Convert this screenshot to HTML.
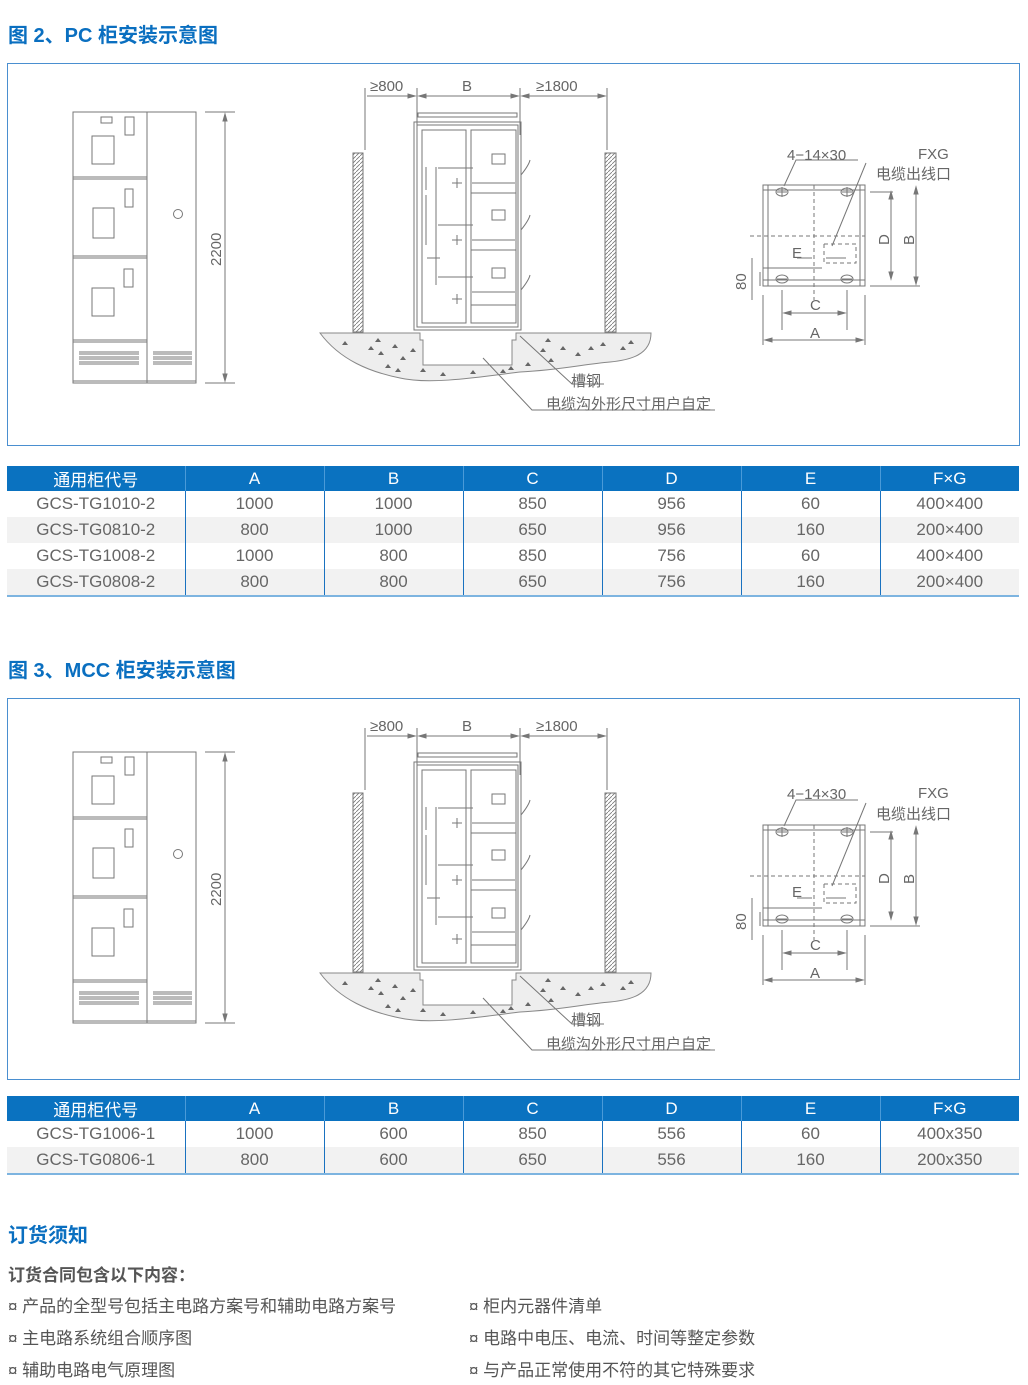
<!DOCTYPE html>
<html><head><meta charset="utf-8"><style>
body{margin:0;width:1028px;height:1385px;background:#fff;position:relative;font-family:"Liberation Sans","Noto Sans CJK SC",sans-serif;overflow:hidden}
.t{position:absolute;left:8px;color:#0a6fc0;font-weight:bold;font-size:20px}
.box{position:absolute;left:7px;width:1011px;border:1px solid #4a8fd0}
table{position:absolute;left:7px;width:1012px;border-collapse:collapse;table-layout:fixed;font-size:17px;color:#666;text-align:center;border-bottom:2px solid #7db4e0}
th{background:#0a72c0;color:#fff;font-weight:normal;height:25px;border-left:1px solid #4a9ad8;padding:0}
td{height:26px;padding:0;border-left:1px solid #1a72c0}
tr td:first-child,tr th:first-child{border-left:none}
tr.g td{background:#f2f2f2}
.p{position:absolute;font-size:17px;color:#555}
</style></head><body>
<div class="t" style="top:19px">图 2、PC 柜安装示意图</div>
<div class="t" style="top:654px">图 3、MCC 柜安装示意图</div>
<div class="box" style="top:63px;height:381px"></div>
<div class="box" style="top:698px;height:380px"></div>

<svg width="1028" height="1385" style="position:absolute;left:0;top:0" font-family="Liberation Sans,Noto Sans CJK SC,sans-serif">
<defs>
<pattern id="h" width="4" height="4" patternUnits="userSpaceOnUse"><path d="M0 4L4 0" stroke="#777" stroke-width="0.8"/></pattern>
<g id="d" fill="none" stroke="#777" stroke-width="1">
 <rect x="73" y="112" width="123" height="271"/>
 <line x1="147" y1="112" x2="147" y2="383"/>
 <path d="M73 177H147M73 179H147M73 256H147M73 258H147M73 340H147M73 342H147M73 381H196"/>
 <rect x="101" y="117" width="11" height="6"/><rect x="125" y="117" width="9" height="18"/><rect x="92" y="136" width="22" height="28"/>
 <rect x="125" y="189" width="8" height="18"/><rect x="93" y="208" width="21" height="30"/>
 <rect x="124" y="269" width="9" height="18"/><rect x="92" y="288" width="22" height="28"/>
 <path d="M79 352H139M79 357H139M79 362H139M153 352H192M153 357H192M153 362H192M79 354H139M79 359H139M79 364H139M153 354H192M153 359H192M153 364H192"/>
 <circle cx="178" cy="214" r="4.5"/>
 <path d="M205 112H235M205 383H235M225 114V381"/>
 <path d="M225 114l-2 7h4zM225 381l-2-7h4z" fill="#777"/>
 <path d="M365 88V150M417 88V135M520 88V135M607 88V150M367 96H415M419 96H518M522 96H605"/>
 <path d="M415 96l-7-2v4zM419 96l7-2v4zM518 96l-7-2v4zM522 96l7-2v4zM605 96l-7-2v4z" fill="#777"/>
 <rect x="353" y="153" width="10" height="179" fill="url(#h)"/>
 <rect x="605" y="153" width="11" height="179" fill="url(#h)"/>
 <path d="M418 117H517V113H418z"/>
 <rect x="414" y="122" width="107" height="208"/>
 <rect x="417" y="125" width="101" height="202"/>
 <rect x="422" y="130" width="44" height="193"/><rect x="471" y="130" width="45" height="193"/>
 <path d="M471 193H516M471 250H516M471 305H516M436 167V285M426 167V190M426 195V245M427 258H440M438 168H473M438 225H473M438 277H473M472 183H515M472 240H515M472 292H515"/>
 <rect x="492" y="154" width="13" height="10"/><rect x="492" y="210" width="13" height="10"/><rect x="492" y="268" width="13" height="10"/>
 <path d="M521 175q8-10 9 -15M521 230q8-10 9-15M521 290q8-10 9-15M452 183h10M457 178v10M452 240h10M457 235v10M452 299h10M457 294v10"/>
 <path d="M320 333H420V340H423V365H512V340H516V333H651C651 355 630 360 610 362C585 364 560 370 520 372C480 377 430 385 400 378C370 372 340 360 320 333z" fill="#eee" stroke="#888"/>
 <path d="M423 340V365H512V340" fill="#fff" stroke="#888"/>
 <path d="M520 336L572 384H604M483 358L532 410H715"/>
 <g fill="#666" stroke="none">
  <path d="M342 345l3-4 3 4zM368 350l3-4 3 4zM378 355l3-4 3 4zM392 348l3-4 3 4zM400 360l3-4 3 4zM410 352l3-4 3 4zM385 368l3-4 3 4zM395 372l3-4 3 4zM420 372l3-4 3 4zM440 376l3-4 3 4zM470 374l3-4 3 4zM500 373l3-4 3 4zM508 370l3-4 3 4zM525 366l3-4 3 4zM540 352l3-4 3 4zM548 362l3-4 3 4zM560 350l3-4 3 4zM575 356l3-4 3 4zM588 350l3-4 3 4zM600 346l3-4 3 4zM620 350l3-4 3 4zM628 344l3-4 3 4zM545 342l3-4 3 4zM375 342l3-4 3 4z"/>
 </g>
 <rect x="763" y="185" width="102" height="101"/>
 <path d="M768 185V286M860 185V286M763 190H865M763 280H865"/>
 <path d="M814 185V300M750 236H865M824 244V263H856V244H824" stroke-dasharray="4 3"/>
 <path d="M763 268H822M797 258H812M826 258H846"/>
 <ellipse cx="782" cy="192" rx="6" ry="4"/><ellipse cx="847" cy="192" rx="6" ry="4"/>
 <ellipse cx="782" cy="279" rx="6" ry="4"/><ellipse cx="847" cy="279" rx="6" ry="4"/>
 <path d="M777 192H787M782 187V197M842 192H852M847 187V197M777 279H787M842 279H852"/>
 <path d="M784 186L796 160H858M832 246L866 163"/>
 <path d="M870 192H893M870 286H920M891 194V277M916 187V284"/>
 <path d="M891 192l-2 7h4zM891 279l-2-7h4zM916 187l-2 7h4zM916 284l-2-7h4z" fill="#777"/>
 <path d="M752 258V300M760 272V286M782 290V330M847 290V330M763 295V345M865 295V345M784 313H845M765 340H863"/>
 <path d="M784 313l7-2v4zM845 313l-7-2v4zM765 340l7-2v4zM863 340l-7-2v4z" fill="#777"/>
</g>
</defs>
<use href="#d"/>
<use href="#d" y="640"/>
<g fill="#666" font-size="15">
 <text x="370" y="91">≥800</text><text x="462" y="91">B</text><text x="536" y="91">≥1800</text>
 <text x="370" y="731">≥800</text><text x="462" y="731">B</text><text x="536" y="731">≥1800</text>
 <text x="221" y="266" transform="rotate(-90 221 266)">2200</text>
 <text x="221" y="906" transform="rotate(-90 221 906)">2200</text>
 <text x="571" y="386">槽钢</text><text x="546" y="409">电缆沟外形尺寸用户自定</text>
 <text x="571" y="1025">槽钢</text><text x="546" y="1049">电缆沟外形尺寸用户自定</text>
 <text x="787" y="160">4−14×30</text><text x="918" y="159">FXG</text><text x="876" y="179">电缆出线口</text>
 <text x="787" y="799">4−14×30</text><text x="918" y="798">FXG</text><text x="876" y="819">电缆出线口</text>
 <text x="792" y="258">E</text><text x="792" y="897">E</text>
 <text x="810" y="310">C</text><text x="810" y="338">A</text><text x="810" y="950">C</text><text x="810" y="978">A</text>
 <text x="889" y="245" transform="rotate(-90 889 245)">D</text><text x="914" y="245" transform="rotate(-90 914 245)">B</text>
 <text x="889" y="884" transform="rotate(-90 889 884)">D</text><text x="914" y="884" transform="rotate(-90 914 884)">B</text>
 <text x="746" y="290" transform="rotate(-90 746 290)">80</text><text x="746" y="930" transform="rotate(-90 746 930)">80</text>
</g>
</svg>

<table style="top:466px">
<colgroup><col style="width:178px"><col style="width:139px"><col style="width:139px"><col style="width:139px"><col style="width:139px"><col style="width:139px"><col style="width:139px"></colgroup>
<tr><th>通用柜代号</th><th>A</th><th>B</th><th>C</th><th>D</th><th>E</th><th>F×G</th></tr>
<tr><td>GCS-TG1010-2</td><td>1000</td><td>1000</td><td>850</td><td>956</td><td>60</td><td>400×400</td></tr>
<tr class="g"><td>GCS-TG0810-2</td><td>800</td><td>1000</td><td>650</td><td>956</td><td>160</td><td>200×400</td></tr>
<tr><td>GCS-TG1008-2</td><td>1000</td><td>800</td><td>850</td><td>756</td><td>60</td><td>400×400</td></tr>
<tr class="g"><td>GCS-TG0808-2</td><td>800</td><td>800</td><td>650</td><td>756</td><td>160</td><td>200×400</td></tr>
</table>
<table style="top:1096px">
<colgroup><col style="width:178px"><col style="width:139px"><col style="width:139px"><col style="width:139px"><col style="width:139px"><col style="width:139px"><col style="width:139px"></colgroup>
<tr><th>通用柜代号</th><th>A</th><th>B</th><th>C</th><th>D</th><th>E</th><th>F×G</th></tr>
<tr><td>GCS-TG1006-1</td><td>1000</td><td>600</td><td>850</td><td>556</td><td>60</td><td>400x350</td></tr>
<tr class="g"><td>GCS-TG0806-1</td><td>800</td><td>600</td><td>650</td><td>556</td><td>160</td><td>200x350</td></tr>
</table>

<div class="t" style="top:1219px">订货须知</div>
<div class="p" style="left:8px;top:1261px;font-weight:bold;color:#555">订货合同包含以下内容：</div>
<div class="p" style="left:8px;top:1292px">¤ 产品的全型号包括主电路方案号和辅助电路方案号</div>
<div class="p" style="left:8px;top:1324px">¤ 主电路系统组合顺序图</div>
<div class="p" style="left:8px;top:1356px">¤ 辅助电路电气原理图</div>
<div class="p" style="left:469px;top:1292px">¤ 柜内元器件清单</div>
<div class="p" style="left:469px;top:1324px">¤ 电路中电压、电流、时间等整定参数</div>
<div class="p" style="left:469px;top:1356px">¤ 与产品正常使用不符的其它特殊要求</div>
</body></html>
